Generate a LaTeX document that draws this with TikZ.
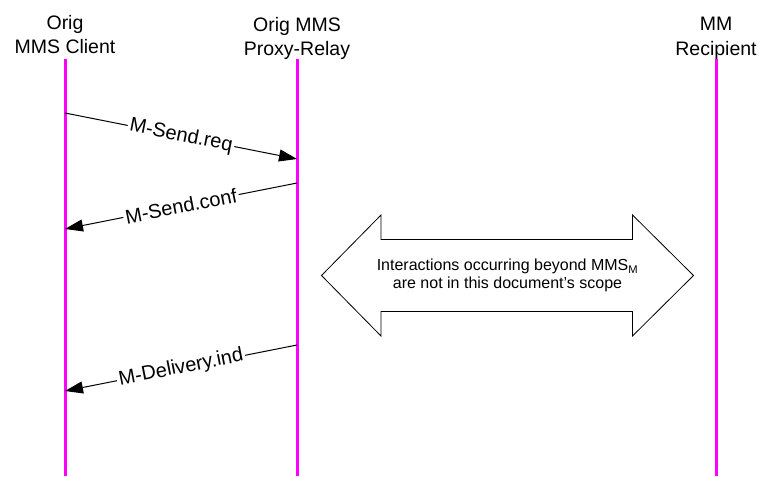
\documentclass[tikz,border=0pt]{standalone}
\usepackage{fontspec}
\setmainfont{Liberation Sans}
\usetikzlibrary{arrows.meta}
\definecolor{lifemagenta}{RGB}{255,0,255}
\tikzset{
    life-line/.style = {draw=lifemagenta, line width=3pt},
    life-title/.style = {align=center, anchor=north, inner sep=0pt, font=\fontsize{19.5}{24.5}\selectfont},
    msg-arrow/.style = {draw=black, line width=1pt, -{Triangle[length=18pt, width=12pt]}},
    msg-label/.style = {fill=white, sloped, inner xsep=2pt, inner ysep=1pt, font=\fontsize{20}{23}\selectfont},
    scope-arrow/.style = {draw=black, line width=0.8pt, fill=white},
    scope-note/.style = {align=center, inner sep=0pt, font=\fontsize{16}{17.5}\selectfont},
}

\begin{document}
\begin{tikzpicture}[x=1pt, y=-1pt]
\useasboundingbox (0,0) rectangle (759,476);

% lifelines
\coordinate (client-top) at (65,59);
\coordinate (client-bot) at (65,476);
\coordinate (proxy-top) at (297,59);
\coordinate (proxy-bot) at (297,476);
\coordinate (recip-top) at (716,59);
\coordinate (recip-bot) at (716,476);
\draw[life-line] (client-top) -- (client-bot);
\draw[life-line] (proxy-top) -- (proxy-bot);
\draw[life-line] (recip-top) -- (recip-bot);

\node[life-title] (client) at (65,15) {Orig\\MMS Client};
\node[life-title] (proxy) at (297,17) {Orig MMS\\Proxy-Relay};
\node[life-title] (recip) at (716,17) {MM\\Recipient};

% messages
\coordinate (req-from) at (65,113);
\coordinate (req-to) at (297,159);
\coordinate (conf-from) at (297,183);
\coordinate (conf-to) at (65,229);
\coordinate (dlv-from) at (297,345);
\coordinate (dlv-to) at (65,391);
\draw[msg-arrow] (req-from) -- node[msg-label] (req) {M-Send.req} (req-to);
\draw[msg-arrow] (conf-from) -- node[msg-label] (conf) {M-Send.conf} (conf-to);
\draw[msg-arrow] (dlv-from) -- node[msg-label] (dlv) {M-Delivery.ind} (dlv-to);

% out of scope block arrow
\draw[scope-arrow] (321.5,275.5) -- (381,215) -- (381,239.5) -- (632.5,239.5)
    -- (632.5,215) -- (693.5,275.5) -- (632.5,336) -- (632.5,311.5)
    -- (381,311.5) -- (381,336) -- cycle;
\node[scope-note] (scope) at (507.5,275.5) {Interactions occurring beyond MMS\textsubscript{M}\\are not in this document's scope};
\end{tikzpicture}
\end{document}
